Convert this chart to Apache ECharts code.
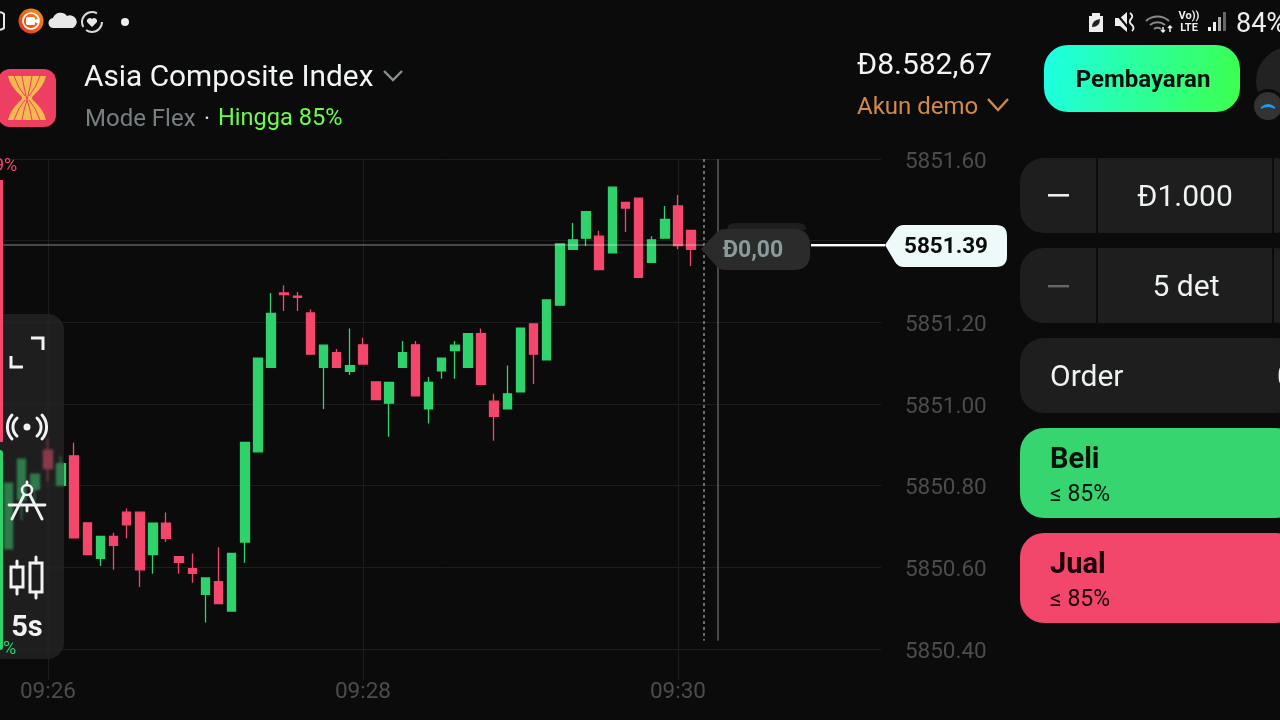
<!DOCTYPE html>
<html lang="id">
<head>
<meta charset="utf-8">
<title>Asia Composite Index</title>
<style>
    html, body { margin: 0; padding: 0; width: 1280px; height: 720px; overflow: hidden; background: #0b0b0c; font-family: Roboto, sans-serif; }
    #main { position: absolute; left: 0; top: 0; width: 1280px; height: 720px; }
    .box { position: absolute; box-sizing: border-box; }
    .txt { position: absolute; white-space: nowrap; line-height: 1; transform: translateY(-50%); }
    .mid { transform: translate(-50%, -50%); }
    svg { position: absolute; left: 0; top: 0; overflow: visible; }
</style>
</head>
<body>
<div id="main"></div>

<!-- left tool panel, sits over the candles -->
<div class="box" style="left:-20px;top:314px;width:84px;height:345px;border-radius:16px;background:rgba(48,48,48,.55);backdrop-filter:blur(1px);"></div>
<div class="box" style="left:0;top:180px;width:3px;height:262px;background:#f4476b;"></div>
<div class="box" style="left:0;top:450px;width:3px;height:200px;background:#2fd26b;border-radius:0 3px 3px 0;"></div>

<!-- right side panels -->
<div class="box" style="left:1020px;top:158px;width:280px;height:75px;border-radius:24px;background:#1e1e1e;"></div>
<div class="box" style="left:1020px;top:248px;width:280px;height:75px;border-radius:24px;background:#1e1e1e;"></div>
<div class="box" style="left:1020px;top:338px;width:280px;height:75px;border-radius:24px;background:#1e1e1e;"></div>
<div class="box" style="left:1096px;top:158px;width:2px;height:75px;background:#0b0b0c;"></div>
<div class="box" style="left:1096px;top:248px;width:2px;height:75px;background:#0b0b0c;"></div>
<div class="box" style="left:1272px;top:158px;width:2px;height:75px;background:#0b0b0c;"></div>
<div class="box" style="left:1272px;top:248px;width:2px;height:75px;background:#0b0b0c;"></div>
<div class="box" style="left:1020px;top:428px;width:280px;height:90px;border-radius:24px;background:#36d56f;"></div>
<div class="box" style="left:1020px;top:533px;width:280px;height:90px;border-radius:24px;background:#f2466a;"></div>
<div class="box" style="left:1044px;top:45px;width:196px;height:67px;border-radius:24px;background:linear-gradient(100deg,#1cffe6,#3dff4c);"></div>

<svg width="1280" height="720">
    <!-- status bar left -->
    <path d="M-4 14 a6 7 0 0 1 8 0 v14 a6 7 0 0 1 -8 0" fill="none" stroke="#e8e8e8" stroke-width="2"/>
    <defs><linearGradient id="rec" x1="0" y1="1" x2="1" y2="0"><stop offset="0" stop-color="#e0301e"/><stop offset="1" stop-color="#f39a1e"/></linearGradient></defs>
    <circle cx="31" cy="21" r="12.5" fill="url(#rec)"/>
    <circle cx="31" cy="21" r="8" fill="none" stroke="#fff" stroke-width="1.6"/>
    <rect x="26" y="17" width="9" height="8" rx="1.5" fill="#fff"/>
    <path d="M35 20 l4 -2 v6 l-4 -2z" fill="#fff"/>
    <path d="M54 28 a5 5 0 0 1 -1 -10 a8 8 0 0 1 14 -2 a6 6 0 0 1 6 12z" fill="#e8e8e8"/>
    <circle cx="92" cy="22" r="10" fill="none" stroke="#d8d8d8" stroke-width="2" stroke-dasharray="22 4 26 11"/>
    <path d="M92 27 l-5 -5 a3 3 0 0 1 5 -3 a3 3 0 0 1 5 3z" fill="#e8e8e8"/>
    <circle cx="125" cy="22" r="4" fill="#eee"/>

    <!-- status bar right -->
    <path d="M1092 16 v-3 h8 v3 h3 v16 h-14 v-16z" fill="#eee"/>
    <path d="M1092 27 q0 -7 8 -8 q0 8 -8 8z" fill="#222"/>
    <path d="M1115 18 h5 l7 -6 v20 l-7 -6 h-5z" fill="#eee"/>
    <path d="M1115 12 l15 18" stroke="#0b0b0c" stroke-width="2"/>
    <path d="M1130 13 q4 3 1 6 q-3 3 1 6 q3 3 0 6" fill="none" stroke="#eee" stroke-width="1.8"/>
    <path d="M1146 21 a17 17 0 0 1 23 0 M1150 25 a12 12 0 0 1 15 0 M1154 29 a6 6 0 0 1 7 0" fill="none" stroke="#8a8a8a" stroke-width="2"/>
    <path d="M1163 27 v5 M1161 30 l2 2 l2 -2 M1170 32 v-6 M1168 28 l2 -2 l2 2" fill="none" stroke="#eee" stroke-width="1.5"/>
    <rect x="1208" y="27" width="3" height="4" fill="#eee"/>
    <rect x="1213" y="22" width="3" height="9" fill="#eee"/>
    <rect x="1218" y="17" width="3" height="14" fill="#aaa"/>
    <rect x="1223" y="12" width="3" height="19" fill="#666"/>

    <!-- logo -->
    <rect x="-2" y="69" width="58" height="58" rx="12" fill="#ee3f63"/>
    <path d="M8 76 h38 q-2 10 -13 20 q-2 2 0 4 q11 10 13 20 h-38 q2 -10 13 -20 q2 -2 0 -4 q-11 -10 -13 -20z" fill="#f6b94f"/>
    <path d="M14 76 q4 12 11 20 M22 76 q2 12 5 24 M32 76 q-2 12 -5 24 M40 76 q-4 12 -11 20 M14 120 q4 -12 11 -20 M22 120 q2 -12 5 -20 M32 120 q-2 -12 -5 -20 M40 120 q-4 -12 -11 -20" fill="none" stroke="#ee3f63" stroke-width="1"/>
    <path d="M384 71 l9 9 l9 -9" fill="none" stroke="#8a9090" stroke-width="2.4"/>
    <path d="M988 99 l10 11 l10 -11" fill="none" stroke="#d08a4a" stroke-width="2.4"/>

    <!-- right round button -->
    <circle cx="1290" cy="81" r="34" fill="#222"/>
    <circle cx="1268" cy="106" r="17" fill="#0b0b0c"/>
    <circle cx="1268" cy="106" r="14" fill="#333"/>
    <path d="M1261 107 q7 -6 14 0 l0 2 q-7 -4 -14 0z" fill="#1e9bf0"/>

    <!-- price marker -->
    <path d="M727 230 q0 -7 8 -7 h63 q8 0 8 7z" fill="#1e1e1e"/>
    <path d="M701 249 l16 -17 q3 -3 8 -3 h69 q16 0 16 16 v9 q0 16 -16 16 h-69 q-5 0 -8 -3z" fill="#2b2b2b"/>
    <rect x="811" y="244" width="74" height="2.4" fill="#fff"/>
    <path d="M885 245 l10 -15 q3 -5 9 -5 h92 q11 0 11 11 v20 q0 11 -11 11 h-92 q-6 0 -9 -5z" fill="#eefafa"/>

    <!-- tool icons -->
    <path d="M31 338 h12 v12 M11 356 v11 h12" fill="none" stroke="#f2f2f2" stroke-width="3"/>
    <circle cx="27" cy="427" r="3.5" fill="#f2f2f2"/>
    <path d="M17 418 a12 12 0 0 0 0 18 M37 418 a12 12 0 0 1 0 18 M12 415 a18 18 0 0 0 0 24 M42 415 a18 18 0 0 1 0 24" fill="none" stroke="#f2f2f2" stroke-width="3" stroke-linecap="round"/>
    <circle cx="27" cy="490" r="5" fill="none" stroke="#f2f2f2" stroke-width="2.5"/>
    <path d="M27 482 v3 M24 495 l-12 24 M30 495 l12 24 M9 505 h36 M27 505 v6" fill="none" stroke="#f2f2f2" stroke-width="2.8" stroke-linecap="round"/>
    <rect x="11" y="567" width="12" height="20" fill="none" stroke="#f2f2f2" stroke-width="3"/>
    <rect x="30" y="563" width="12" height="29" fill="none" stroke="#f2f2f2" stroke-width="3"/>
    <path d="M17 561 v6 M17 587 v7 M36 557 v6 M36 592 v6" stroke="#f2f2f2" stroke-width="3" stroke-linecap="round"/>

    <!-- steppers -->
    <rect x="1048" y="194" width="21" height="2.6" fill="#eee"/>
    <rect x="1048" y="285" width="21" height="2.4" fill="#666"/>
</svg>

<div class="txt" style="left:84px;top:76px;font-size:29.8px;color:#f1f5f5;">Asia Composite Index</div>
<div class="txt" style="left:85px;top:118px;font-size:24px;color:#768080;">Mode Flex</div>
<div class="txt" style="left:204px;top:118px;font-size:23px;color:#ddd;">·</div>
<div class="txt" style="left:218px;top:118px;font-size:23.6px;color:#6dfb4f;">Hingga 85%</div>
<div class="txt" style="left:857px;top:64px;font-size:30px;color:#f1f5f5;">Đ8.582,67</div>
<div class="txt" style="left:857px;top:106px;font-size:24px;color:#d08a4a;">Akun demo</div>
<div class="txt mid" style="left:1143px;top:79px;font-size:24px;font-weight:700;color:#06100c;">Pembayaran</div>
<div class="txt" style="left:1236px;top:23px;font-size:27px;color:#eee;">84%</div>
<div class="txt mid" style="left:1189px;top:15px;font-size:11px;font-weight:700;color:#eee;">Vo))</div>
<div class="txt mid" style="left:1189px;top:27px;font-size:11px;font-weight:700;color:#eee;">LTE</div>
<div class="txt" style="left:-6px;top:165px;font-size:18px;color:#f4476b;">9%</div>
<div class="txt" style="left:3px;top:648px;font-size:18px;color:#2fd26b;">%</div>
<div class="txt mid" style="left:27px;top:626px;font-size:29px;font-weight:700;color:#f2f2f2;">5s</div>
<div class="txt mid" style="left:753px;top:249px;font-size:23px;font-weight:700;color:#8b9a9a;">Đ0,00</div>
<div class="txt mid" style="left:946px;top:245px;font-size:22.5px;font-weight:700;color:#0b0b0c;">5851.39</div>
<div class="txt mid" style="left:1185px;top:196px;font-size:30px;color:#eef2f2;">Đ1.000</div>
<div class="txt mid" style="left:1186px;top:286px;font-size:30px;color:#eef2f2;">5 det</div>
<div class="txt" style="left:1050px;top:376px;font-size:30px;color:#eef2f2;">Order</div>
<div class="txt" style="left:1277px;top:376px;font-size:30px;color:#eef2f2;">0</div>
<div class="txt" style="left:1050px;top:458px;font-size:29px;font-weight:700;color:#04130a;">Beli</div>
<div class="txt" style="left:1050px;top:493px;font-size:23px;color:#04130a;">≤ 85%</div>
<div class="txt" style="left:1050px;top:563px;font-size:29px;font-weight:700;color:#1a0208;">Jual</div>
<div class="txt" style="left:1050px;top:598px;font-size:23px;color:#1a0208;">≤ 85%</div>

<script src="https://cdn.jsdelivr.net/npm/echarts@6/dist/echarts.min.js"></script>
<script type="text/javascript">

    // candle times, 5 seconds apart, first and last ones have no candle
    var times = [
        '09:25:40','09:25:45','09:25:50','09:25:55','09:26:00','09:26:05','09:26:10','09:26:15','09:26:20','09:26:25','09:26:30','09:26:35',
        '09:26:40','09:26:45','09:26:50','09:26:55','09:27:00','09:27:05','09:27:10','09:27:15','09:27:20','09:27:25','09:27:30','09:27:35',
        '09:27:40','09:27:45','09:27:50','09:27:55','09:28:00','09:28:05','09:28:10','09:28:15','09:28:20','09:28:25','09:28:30','09:28:35',
        '09:28:40','09:28:45','09:28:50','09:28:55','09:29:00','09:29:05','09:29:10','09:29:15','09:29:20','09:29:25','09:29:30','09:29:35',
        '09:29:40','09:29:45','09:29:50','09:29:55','09:30:00','09:30:05','09:30:10','09:30:15','09:30:20','09:30:25','09:30:30','09:30:35',
        '09:30:40','09:30:45','09:30:50','09:30:55','09:31:00','09:31:05','09:31:10','09:31:15'
    ];
    var timeTicks = ['09:26:00', '09:28:00', '09:30:00'];

    var opens = [5850.645,5850.765,5850.791,5850.887,5850.801,5850.873,5850.709,5850.622,5850.676,5850.735,5850.735,5850.631,5850.708,
        5850.626,5850.597,5850.534,5850.565,5850.493,5850.662,5850.883,5851.090,5851.272,5851.264,5851.223,5851.090,5851.126,5851.080,
        5851.145,5851.054,5851.002,5851.090,5851.145,5850.988,5851.081,5851.131,5851.090,5851.172,5851.007,5850.988,5851.030,5851.196,
        5851.108,5851.242,5851.379,5851.406,5851.411,5851.370,5851.494,5851.504,5851.347,5851.406,5851.485,5851.425];
    var closes = [5850.806,5850.865,5850.828,5850.842,5850.854,5850.672,5850.631,5850.676,5850.654,5850.704,5850.594,5850.708,5850.671,
        5850.612,5850.585,5850.574,5850.511,5850.634,5850.906,5851.112,5851.222,5851.268,5851.261,5851.122,5851.144,5851.090,5851.094,
        5851.098,5851.011,5851.053,5851.126,5851.020,5851.053,5851.112,5851.144,5851.172,5851.048,5850.970,5851.025,5851.186,5851.122,
        5851.255,5851.392,5851.402,5851.471,5851.329,5851.531,5851.480,5851.310,5851.402,5851.452,5851.388,5851.379];
    var lows = [5850.645,5850.716,5850.760,5850.809,5850.801,5850.672,5850.631,5850.603,5850.594,5850.671,5850.552,5850.584,5850.662,
        5850.584,5850.562,5850.465,5850.511,5850.493,5850.611,5850.883,5851.090,5851.228,5851.228,5851.122,5850.988,5851.090,5851.071,
        5851.098,5851.011,5850.920,5851.090,5851.020,5850.952,5851.062,5851.062,5851.090,5851.048,5850.910,5850.988,5851.030,5851.049,
        5851.108,5851.242,5851.379,5851.387,5851.329,5851.370,5851.421,5851.310,5851.347,5851.406,5851.379,5851.338];
    var highs = [5850.806,5850.865,5850.828,5850.916,5850.872,5850.905,5850.709,5850.676,5850.685,5850.744,5850.735,5850.708,5850.734,
        5850.627,5850.634,5850.574,5850.649,5850.634,5850.906,5851.112,5851.272,5851.291,5851.274,5851.232,5851.144,5851.135,5851.185,
        5851.162,5851.054,5851.053,5851.154,5851.154,5851.066,5851.112,5851.154,5851.172,5851.185,5851.025,5851.094,5851.186,5851.196,
        5851.255,5851.392,5851.443,5851.471,5851.424,5851.531,5851.494,5851.504,5851.411,5851.485,5851.512,5851.425];

    var lastPrice = 5851.39;
    var dashedTime = '09:30:10';
    var solidTime = '09:30:15';

    var candles = [['-', '-', '-', '-']];
    opens.forEach(function (value, index) {
        candles.push([value, closes[index], lows[index], highs[index]]);
    });

    function isTimeTick(index, value) {
        return timeTicks.indexOf(value) >= 0;
    }

    var myChart = echarts.init(document.getElementById('main'));
    var option = {
        animation: false,
        backgroundColor: '#0b0b0c',
        // the first slot hangs off the left edge, so the grid must not be pulled back inside
        grid: { left: -11.125, top: 159, width: 892.5, height: 490, outerBoundsMode: 'none' },
        xAxis: {
            type: 'category',
            data: times,
            axisLine: { show: false },
            axisTick: { show: true, alignWithLabel: true, interval: isTimeTick, length: 31, lineStyle: { color: '#1d1d1d' } },
            splitLine: { show: true, alignWithLabel: true, interval: isTimeTick, lineStyle: { color: '#1d1d1d', width: 1 } },
            axisLabel: {
                interval: isTimeTick,
                margin: 32,
                color: '#4c4c4c',
                fontFamily: 'Roboto',
                fontSize: 22.5,
                formatter: function (value) { return value.slice(0, 5); }
            }
        },
        yAxis: {
            type: 'value',
            position: 'right',
            min: 5850.4,
            max: 5851.6,
            interval: 0.2,
            axisLine: { show: false },
            axisTick: { show: false },
            splitLine: { lineStyle: { color: '#1d1d1d', width: 1 } },
            axisLabel: {
                margin: 23.5,
                color: '#4c4c4c',
                fontFamily: 'Roboto',
                fontSize: 22.5,
                // labels sit a little under their grid lines
                rich: { p: { color: '#4c4c4c', fontFamily: 'Roboto', fontSize: 22.5, padding: [6, 0, 0, 0] } },
                formatter: function (value) { return '{p|' + value.toFixed(2) + '}'; }
            }
        },
        series: [{
            type: 'candlestick',
            data: candles,
            barWidth: 9,
            itemStyle: {
                color: '#2fd26b',
                color0: '#f4476b',
                borderColor: '#2fd26b',
                borderColor0: '#f4476b',
                borderWidth: 1.3
            },
            markLine: {
                silent: true,
                symbol: 'none',
                label: { show: false },
                data: [
                    [
                        { coord: [times[0], lastPrice], lineStyle: { color: 'rgba(255,255,255,0.33)', width: 1.5, type: 'solid' } },
                        { coord: [dashedTime, lastPrice] }
                    ],
                    [
                        { coord: [dashedTime, 5851.6], lineStyle: { color: '#8c8c8c', width: 1.5, type: [3, 3] } },
                        { coord: [dashedTime, 5850.42] }
                    ],
                    [
                        { coord: [solidTime, 5851.6], lineStyle: { color: '#5e5e5e', width: 1.5, type: 'solid' } },
                        { coord: [solidTime, 5850.42] }
                    ]
                ]
            }
        }]
    };
    myChart.setOption(option);

</script>
</body>
</html>
